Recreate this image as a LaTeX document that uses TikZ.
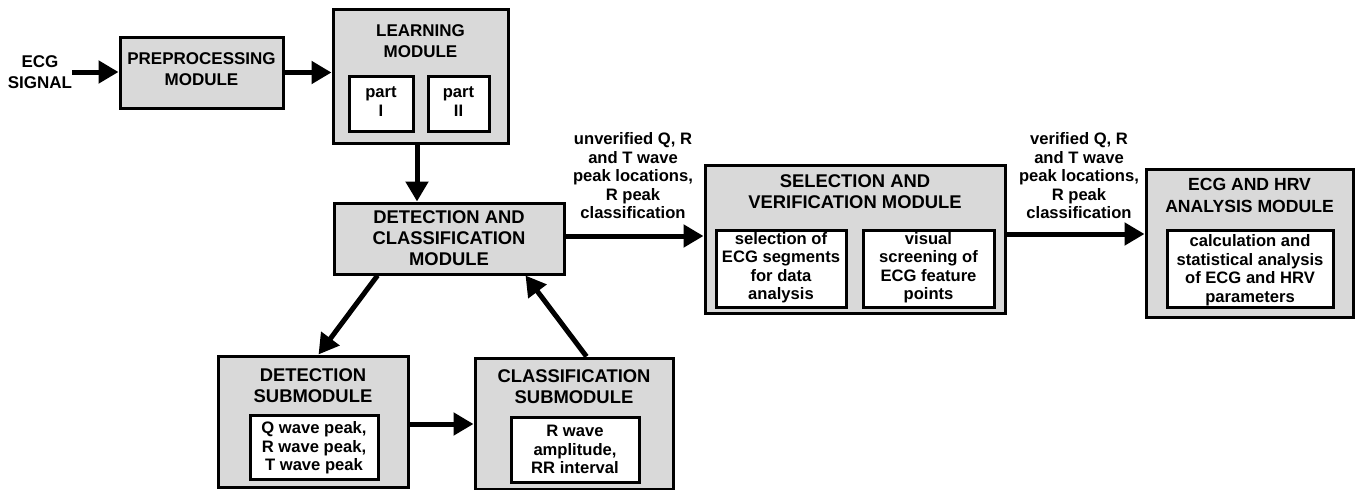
\documentclass[tikz,border=0pt]{standalone}
\usepackage{fontspec}
\setmainfont{Liberation Sans}
\usetikzlibrary{arrows.meta}
\definecolor{modgray}{RGB}{217,217,217}
\tikzset{
  module/.style={draw, line width=3pt, fill=modgray, inner sep=0pt},
  part/.style={draw, line width=3pt, fill=white, inner sep=0pt},
  title/.style={inner sep=0pt, align=center,
    font=\fontsize{18.4}{21}\selectfont\bfseries},
  stitle/.style={inner sep=0pt, align=center,
    font=\fontsize{17}{21}\selectfont\bfseries},
  small/.style={inner sep=0pt, align=center,
    font=\fontsize{16.6}{18.5}\selectfont\bfseries},
  arr/.style={line width=5pt, -{Triangle[length=20pt,width=22pt]}}
}
\begin{document}
\begin{tikzpicture}[x=1pt, y=-1pt]
  \useasboundingbox (0,0) rectangle (1358,490);
  % Input and first modules
  \node[stitle] (sig) at (40,72) {ECG\\SIGNAL};
  \node[module, minimum width=163pt, minimum height=71pt] (pp) at (201.5,72.5) {};
  \node[stitle] (pptxt) at (201.5,69) {PREPROCESSING\\MODULE};
  \node[module, minimum width=175pt, minimum height=134pt] (lm) at (420.5,76) {};
  \node[stitle] (lmtxt) at (420.5,41.5) {LEARNING\\MODULE};
  \node[part, minimum width=64pt, minimum height=55pt] (p1) at (381,103.5) {};
  \node[small] (p1txt) at (381,101.5) {part\\I};
  \node[part, minimum width=61pt, minimum height=55pt] (p2) at (458.5,103.5) {};
  \node[small] (p2txt) at (458.5,101.5) {part\\II};
  % Detection and classification
  \node[module, minimum width=230pt, minimum height=71pt] (dc) at (449,238.5) {};
  \node[title] (dctxt) at (449,238) {DETECTION AND\\CLASSIFICATION\\MODULE};
  \node[module, minimum width=190pt, minimum height=131pt] (ds) at (313,421.5) {};
  \node[title] (dstxt) at (313,385.5) {DETECTION\\SUBMODULE};
  \node[part, minimum width=128pt, minimum height=64pt] (dsin) at (314,447) {};
  \node[small] (dsintxt) at (314,448) {Q wave peak,\\R wave peak,\\T wave peak};
  \node[module, minimum width=198pt, minimum height=131pt] (cs) at (574,423.5) {};
  \node[title] (cstxt) at (574,387) {CLASSIFICATION\\SUBMODULE};
  \node[part, minimum width=128pt, minimum height=65pt] (csin) at (575,449.5) {};
  \node[small] (csintxt) at (575,449.5) {R wave\\amplitude,\\RR interval};
  % Selection and verification
  \node[module, minimum width=300pt, minimum height=148pt] (sel) at (855,239) {};
  \node[title] (seltxt) at (855,192) {SELECTION AND\\VERIFICATION MODULE};
  \node[part, minimum width=130pt, minimum height=77pt] (sel1) at (781,268.5) {};
  \node[small] (sel1txt) at (781,267.5) {selection of\\ECG segments\\for data\\analysis};
  \node[part, minimum width=131pt, minimum height=77pt] (sel2) at (928.5,268.5) {};
  \node[small] (sel2txt) at (928.5,267.5) {visual\\screening of\\ECG feature\\points};
  % ECG and HRV analysis
  \node[module, minimum width=207pt, minimum height=148pt] (eh) at (1249.5,243) {};
  \node[title, font=\fontsize{17.6}{22}\selectfont\bfseries] (ehtxt) at (1249.5,195.5) {ECG AND HRV\\ANALYSIS MODULE};
  \node[part, minimum width=166pt, minimum height=77pt] (ehin) at (1250,268.5) {};
  \node[small] (ehintxt) at (1250,270) {calculation and\\statistical analysis\\of ECG and HRV\\parameters};
  % Arrow labels
  \node[small] (unver) at (633,176) {unverified Q, R\\and T wave\\peak locations,\\R peak\\classification};
  \node[small] (ver) at (1079,176) {verified Q, R\\and T wave\\peak locations,\\R peak\\classification};
  % Draw arrows
  \draw[arr] (sig.east) -- (sig.east -| pp.west);
  \draw[arr] (pp.east) -- (pp.east -| lm.west);
  \draw[arr] ([xshift=-3.5pt]lm.south) -- ([xshift=-3.5pt]lm.south |- dc.north);
  \draw[arr] ([yshift=2.5pt]dc.east) -- ([yshift=2.5pt]dc.east -| sel.west);
  \draw[arr] ([yshift=5pt]sel.east) -- ([yshift=5pt]sel.east -| eh.west);
  \draw[arr] ([xshift=45pt]dc.south west) -- ([xshift=102pt]ds.north west);
  \draw[arr] ([xshift=113pt]cs.north west) -- ([xshift=193pt]dc.south west);
  \draw[arr] ([yshift=-2.5pt]ds.east) -- ([yshift=-2.5pt]ds.east -| cs.west);
\end{tikzpicture}
\end{document}
